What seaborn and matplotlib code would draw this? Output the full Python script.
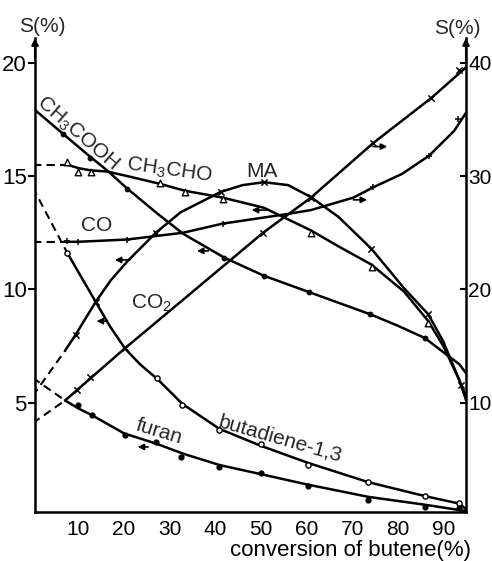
import matplotlib
matplotlib.use("Agg")
import matplotlib.pyplot as plt
import seaborn as sns
import pandas as pd

# ---------------- data: conversion of butene (%) -> selectivity S (%) ----------------
# left axis (S %, 0-20)
ch3cooh_x = [0, 7.6, 12.6, 16.3, 20.7, 27.6, 33, 42, 50.7, 61, 74, 80, 86, 90.2, 93.5, 95]
ch3cooh_y = [18.0, 16.7, 15.85, 15.25, 14.45, 13.3, 12.45, 11.4, 10.6, 9.85, 8.9, 8.4, 7.85, 7.2, 6.7, 6.3]
ch3cooh_mx = [6.7, 12.6, 20.7, 42, 50.7, 60.5, 74, 86]
ch3cooh_my = [16.85, 15.8, 14.45, 11.4, 10.6, 9.9, 8.9, 7.85]

ch3cho_dx = [0, 7.6]
ch3cho_dy = [15.5, 15.5]
ch3cho_x = [7.6, 10, 12.7, 16.3, 20.7, 28, 33.4, 41.6, 50.7, 61, 67, 74.2, 81.4, 86.7, 90, 93.5, 95]
ch3cho_y = [15.5, 15.35, 15.25, 15.2, 15.0, 14.65, 14.35, 14.05, 13.6, 12.6, 11.9, 11.1, 9.9, 8.6, 7.5, 6.0, 5.1]
ch3cho_mx = [7.6, 10, 12.7, 28, 33.4, 41.6, 61, 74.4, 86.7]
ch3cho_my = [15.6, 15.2, 15.2, 14.7, 14.3, 14.0, 12.5, 11.0, 8.5]

ma_dx = [0, 7.1]
ma_dy = [5.3, 7.3]
ma_x = [7.1, 9.4, 13.8, 17.1, 20.8, 27, 32.4, 41.2, 46, 50.7, 56, 61, 67, 74.2, 81.4, 86.7, 90, 93.9, 95]
ma_y = [7.3, 8.0, 9.45, 10.4, 11.25, 12.5, 13.4, 14.3, 14.6, 14.73, 14.6, 14.07, 13.2, 11.8, 10.05, 8.9, 7.7, 5.8, 5.3]
ma_mx = [9.4, 13.8, 27, 41.2, 50.7, 61, 74.2, 86.7, 93.9]
ma_my = [8.0, 9.45, 12.5, 14.3, 14.73, 14.07, 11.8, 8.9, 5.8]

buta_dx = [0, 7.6]
buta_dy = [14.5, 11.6]
buta_x = [7.6, 10, 13.8, 17, 20.2, 23.5, 27.3, 32.8, 40.9, 50, 60.3, 73.5, 86, 93.5, 95]
buta_y = [11.6, 10.77, 9.45, 8.35, 7.4, 6.7, 6.05, 4.95, 3.85, 3.1, 2.35, 1.5, 0.88, 0.55, 0.3]
buta_mx = [7.6, 27.3, 32.8, 40.9, 50, 60.3, 73.5, 86, 93.5]
buta_my = [11.6, 6.1, 4.9, 3.8, 3.2, 2.25, 1.5, 0.88, 0.57]

furan_dx = [0, 7.1]
furan_dy = [6.1, 5.1]
furan_x = [7.1, 10, 13, 20, 27, 33, 41, 50, 60, 73.5, 86, 95]
furan_y = [5.1, 4.75, 4.45, 3.65, 3.2, 2.75, 2.25, 1.85, 1.4, 0.85, 0.5, 0.22]
furan_mx = [10, 13, 20.3, 27, 32.4, 40.8, 50, 60.3, 73.5, 86, 93.5]
furan_my = [4.9, 4.45, 3.57, 3.26, 2.6, 2.16, 1.9, 1.32, 0.7, 0.4, 0.35]

# right axis (S %, 0-40)
co_dx = [0, 6.9]
co_dy = [24.2, 24.2]
co_x = [6.9, 10, 20.7, 33, 41.6, 55, 61, 70.3, 74.6, 81, 86.9, 92.4, 95]
co_y = [24.2, 24.2, 24.4, 25.0, 25.8, 26.6, 27.0, 28.1, 29.0, 30.2, 31.8, 34.0, 35.6]
co_mx = [7.5, 10, 20.7, 41.6, 74.6, 86.9, 93.2]
co_my = [24.3, 24.2, 24.4, 25.8, 29.0, 31.8, 35.0]

co2_dx = [0, 7.1]
co2_dy = [8.2, 10.2]
co2_x = [7.1, 20.2, 33, 50.5, 61, 74.6, 87.4, 95]
co2_y = [10.2, 14.8, 19.1, 25.0, 28.1, 32.9, 36.9, 39.6]
co2_mx = [9.7, 12.6, 20.2, 50.5, 61, 74.6, 87.4, 93.5]
co2_my = [11.1, 12.3, 14.8, 25.0, 28.1, 32.9, 36.9, 39.4]

# direction arrows (which axis a curve belongs to), left-axis units
arrow_tail_x = [21.3, 38.5, 51.3, 25.3, 16.3, 70.3, 74.6]
arrow_head_x = [18.0, 36.0, 48.0, 23.0, 14.0, 73.3, 77.7]
arrow_y = [11.3, 11.7, 13.5, 3.05, 8.6, 13.95, 16.3]

xticks = [10, 20, 30, 40, 50, 60, 70, 80, 90]
left_ticks = [5, 10, 15, 20]
right_ticks = [10, 20, 30, 40]

# ---------------- style ----------------
sns.set_theme(style="white")
plt.rcParams["font.family"] = ["Liberation Sans", "DejaVu Sans"]
plt.rcParams["mathtext.fontset"] = "custom"
plt.rcParams["mathtext.rm"] = "Liberation Sans"
plt.rcParams["mathtext.default"] = "regular"

W, H = 492, 561
fig = plt.figure(figsize=(W / 100, H / 100), dpi=100)
fig.patch.set_facecolor("white")
ax = fig.add_axes([35 / W, 49 / H, 431 / W, 474 / H])
ax.set_facecolor("white")
ax2 = ax.twinx()

LW = 1.8
DASH = (0, (4, 2.5))


def curve(a, x, y, dashed=False):
    sns.lineplot(x=x, y=y, ax=a, color="black", lw=LW if not dashed else 1.5,
                 sort=False, estimator=None, linestyle=DASH if dashed else "-")


def marks(a, x, y, marker, face="black", size=18, lw=1.0):
    sns.scatterplot(x=x, y=y, ax=a, marker=marker, s=size, color="black",
                    facecolor=face, edgecolor="black", linewidth=lw, zorder=5)


# left-axis curves
curve(ax, ch3cooh_x, ch3cooh_y)
marks(ax, ch3cooh_mx, ch3cooh_my, "o", size=10)

curve(ax, ch3cho_dx, ch3cho_dy, dashed=True)
curve(ax, ch3cho_x, ch3cho_y)
marks(ax, ch3cho_mx, ch3cho_my, "^", face="white", size=22)

curve(ax, ma_dx, ma_dy, dashed=True)
curve(ax, ma_x, ma_y)
marks(ax, ma_mx, ma_my, "x", size=20, lw=1.1)

curve(ax, buta_dx, buta_dy, dashed=True)
curve(ax, buta_x, buta_y)
marks(ax, buta_mx, buta_my, "o", face="white", size=14)

curve(ax, furan_dx, furan_dy, dashed=True)
curve(ax, furan_x, furan_y)
marks(ax, furan_mx, furan_my, "o", size=12)

# right-axis curves
curve(ax2, co_dx, co_dy, dashed=True)
curve(ax2, co_x, co_y)
marks(ax2, co_mx, co_my, "+", size=22, lw=1.1)

curve(ax2, co2_dx, co2_dy, dashed=True)
curve(ax2, co2_x, co2_y)
marks(ax2, co2_mx, co2_my, "x", size=20, lw=1.1)

# arrows
for tx, hx, yy in zip(arrow_tail_x, arrow_head_x, arrow_y):
    ax.annotate("", xy=(hx, yy), xytext=(tx, yy),
                arrowprops=dict(arrowstyle="-|>", lw=1.2, color="black",
                                mutation_scale=9, shrinkA=0, shrinkB=0))

# axes limits
ax.set_xlim(0.5, 94.97)
ax.set_ylim(0.18, 21.09)
ax2.set_ylim(0.36, 42.18)

# spines
for a in (ax, ax2):
    a.spines["top"].set_visible(False)
    for s in ("left", "right", "bottom"):
        a.spines[s].set_linewidth(1.8)
        a.spines[s].set_color("black")
ax.spines["right"].set_visible(False)
ax2.spines["left"].set_visible(False)
ax2.spines["bottom"].set_visible(False)

# ticks
ax.set_xticks(xticks)
ax.set_xticklabels([str(t) for t in xticks])
ax.tick_params(axis="x", length=0, pad=6, labelsize=15, colors="black")
ax.set_yticks(left_ticks)
ax.set_yticklabels([str(t) for t in left_ticks])
ax.tick_params(axis="y", direction="out", length=5, width=1.5, pad=1, labelsize=16, colors="black")
ax2.set_yticks(right_ticks)
ax2.set_yticklabels([str(t) for t in right_ticks])
ax2.tick_params(axis="y", direction="in", length=4, width=1.5, pad=1.5, labelsize=15, colors="black")
ax.grid(False)
ax2.grid(False)
ax.set_ylabel("")
ax2.set_ylabel("")

# arrowheads on vertical axes
for xf in (0.0, 1.0):
    ax.annotate("", xy=(xf, 1.0), xytext=(xf, 0.955), xycoords="axes fraction",
                textcoords="axes fraction",
                arrowprops=dict(arrowstyle="-|>", lw=1.5, color="black",
                                mutation_scale=10, shrinkA=0, shrinkB=0))

# axis titles
ax.set_xlabel("conversion of butene(%)", fontsize=16, color="black")
ax.xaxis.set_label_coords((350 - 35) / 431, -0.06)
fig.text(42 / W, 1 - 26 / H, "S(%)", fontsize=15, ha="center", va="center")
fig.text(457 / W, 1 - 28 / H, "S(%)", fontsize=15, ha="center", va="center")

# curve labels
fs = 15
ax.text(9.9, 16.9, r"CH$_3$COOH", fontsize=fs, rotation=-41, ha="center", va="center")
ax.text(29.9, 15.25, r"CH$_3$CHO", fontsize=fs, rotation=-8, ha="center", va="center")
ax.text(50.3, 15.2, "MA", fontsize=fs, ha="center", va="center")
ax.text(14.1, 12.8, "CO", fontsize=fs, ha="center", va="center")
ax.text(26.0, 9.4, r"CO$_2$", fontsize=fs, ha="center", va="center")
ax.text(27.7, 3.7, "furan", fontsize=fs, rotation=-17, ha="center", va="center")
ax.text(54.3, 3.4, "butadiene-1,3", fontsize=fs, rotation=-16, ha="center", va="center")

fig.savefig("out.png", dpi=100, facecolor="white")
